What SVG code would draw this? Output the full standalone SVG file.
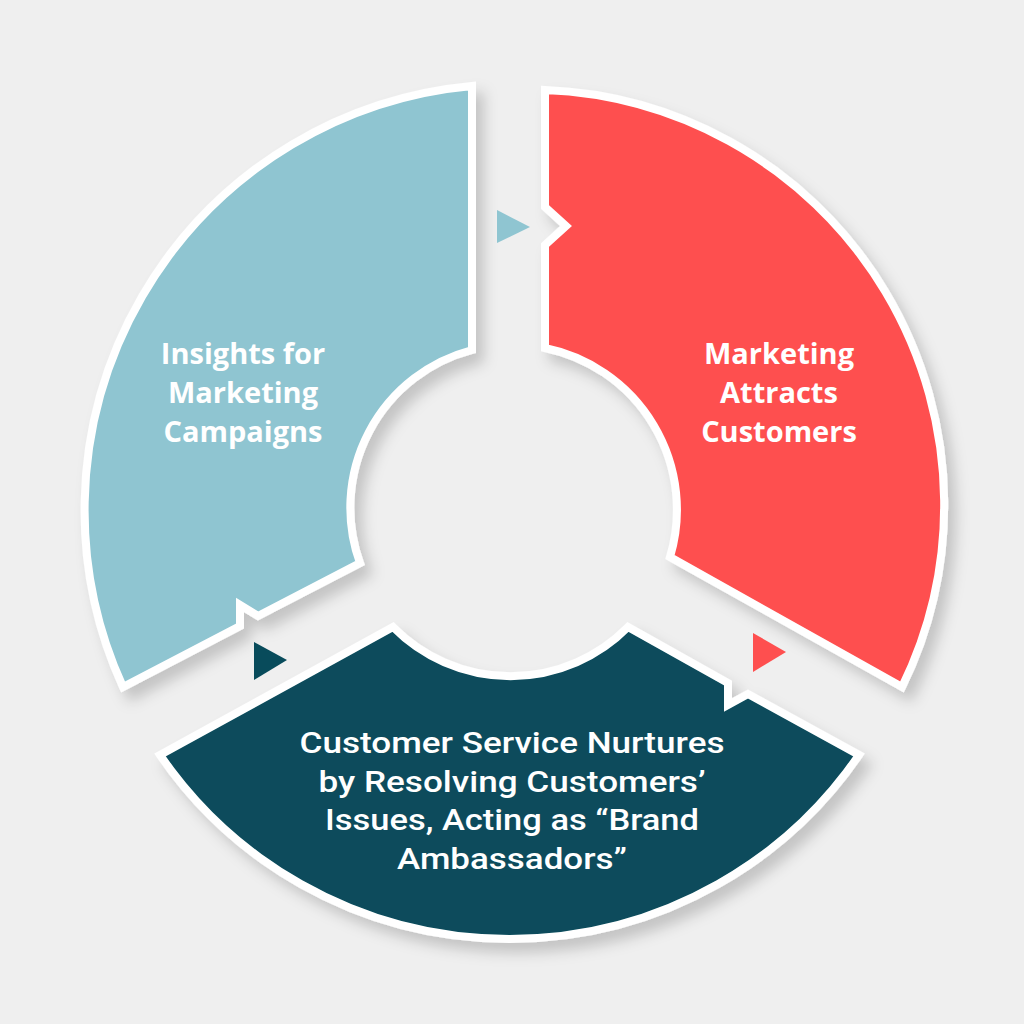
<svg xmlns="http://www.w3.org/2000/svg" width="1024" height="1024" viewBox="0 0 1024 1024">
<defs>
<filter id="sh" x="-10%" y="-10%" width="130%" height="130%"><feDropShadow dx="8" dy="10" stdDeviation="7" flood-color="#000" flood-opacity="0.18"/></filter>
</defs>
<style>
.seg{stroke:#fff;stroke-width:8;stroke-linejoin:miter;filter:url(#sh)}
.t{font-family:"Open Sans","Lato",sans-serif;font-weight:700;font-size:29px;fill:#fff;text-anchor:middle}
.tc{font-family:"Roboto","Liberation Sans",sans-serif;font-weight:500;font-size:30px;fill:#fff;text-anchor:middle}
</style>
<rect width="1024" height="1024" fill="#efefef"/>
<g id="insights">
<path class="seg" fill="#8fc5d1" d="M472,86 L472,350 A163,163 0 0 0 360,563 L258,616 L240,605 L240,626 L123,687 A426,426 0 0 1 472,86 Z"/>
<text class="t" x="243" y="364">Insights for</text>
<text class="t" x="243" y="403">Marketing</text>
<text class="t" x="243" y="442">Campaigns</text>
</g>
<g id="marketing">
<path class="seg" fill="#fe4f4f" d="M545,90 A415,415 0 0 1 902,687 L670,557 A165,165 0 0 0 545,348 L545,245 L566,226 L545,207 Z"/>
<text class="t" x="779" y="364">Marketing</text>
<text class="t" x="779" y="403">Attracts</text>
<text class="t" x="779" y="442">Customers</text>
</g>
<g id="service">
<path class="seg" fill="#084b5b" d="M160,755 L393,627 A165,165 0 0 0 628,627 L728,683 L728,705 L748,694 L859,755 A424,424 0 0 1 160,755 Z"/>
<text class="tc" x="512" y="753" textLength="425" lengthAdjust="spacingAndGlyphs">Customer Service Nurtures</text>
<text class="tc" x="512" y="792" textLength="387" lengthAdjust="spacingAndGlyphs">by Resolving Customers’</text>
<text class="tc" x="512" y="830" textLength="374" lengthAdjust="spacingAndGlyphs">Issues, Acting as “Brand</text>
<text class="tc" x="512" y="869" textLength="230" lengthAdjust="spacingAndGlyphs">Ambassadors”</text>
</g>
<g id="connectors">
<polygon points="497,210 497,243 530,227" fill="#8fc5d1"/>
<polygon points="753,633 753,672 786,652" fill="#fe4f4f"/>
<polygon points="254,642 254,680 287,660" fill="#084b5b"/>
</g>
</svg>
